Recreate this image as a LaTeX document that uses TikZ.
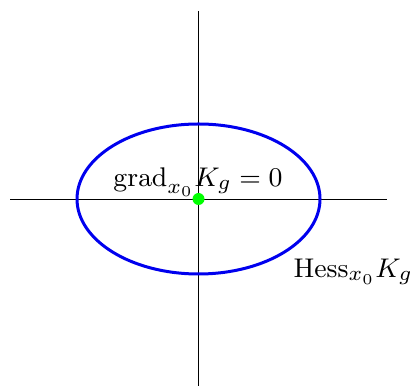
\documentclass[tikz,border=0pt]{standalone}
\usepackage{xcolor}
\definecolor{ellblue}{RGB}{0,0,238}
\definecolor{dotgreen}{RGB}{0,255,0}
\begin{document}
\begin{tikzpicture}[x=0.3333pt,y=-0.3333pt,
  axis/.style={black,line width=0.33pt},
  lbl/.style={inner sep=0pt,font=\fontsize{9.4}{11}\selectfont}]
\useasboundingbox (0,0) rectangle (411,387);
\coordinate (o) at (198.5,199);
\coordinate (xl) at (10,199);
\coordinate (xr) at (387,199);
\coordinate (yt) at (198.5,11);
\coordinate (yb) at (198.5,386);
\draw[axis] (xl) -- (xr);
\draw[axis] (yt) -- (yb);
\draw[ellblue,line width=1pt] (o) ellipse [x radius=121.5, y radius=75];
\fill[dotgreen] (o) circle [radius=6];
\node[lbl,anchor=base] (grad) at (198,187) {$\mathrm{grad}_{x_0}K_g=0$};
\node[lbl,anchor=base west] (hess) at (293,278) {$\mathrm{Hess}_{x_0}K_g$};
\end{tikzpicture}
\end{document}
